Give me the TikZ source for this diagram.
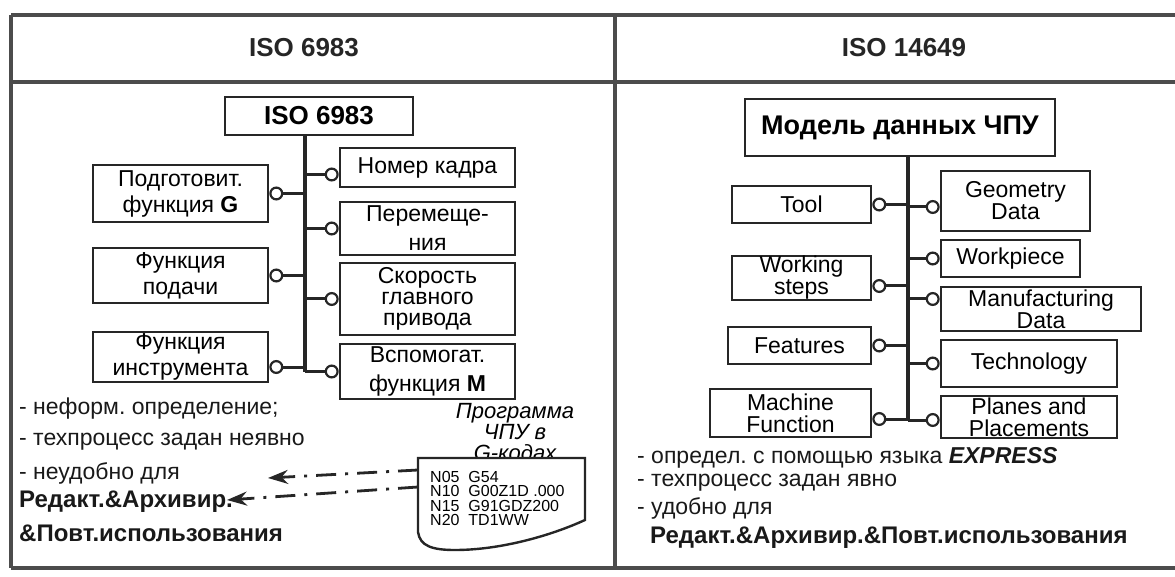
\documentclass[tikz,border=0pt]{standalone}
\usepackage{fontspec}
\setmainfont{Liberation Sans}
\usetikzlibrary{arrows.meta,positioning}
\frenchspacing

\begin{document}
\begin{tikzpicture}[x=1pt, y=-1pt,
  bx/.style={draw=black!85, line width=2.6pt, fill=white, align=center, inner sep=0pt, font=\fontsize{23}{26}\selectfont},
  rb/.style={font=\fontsize{23}{22}\selectfont},
  ttl/.style={bx, font=\bfseries\fontsize{26}{28}\selectfont},
  hd/.style={inner sep=0pt, font=\bfseries\fontsize{26}{28}\selectfont, text=black!85},
  txt/.style={anchor=west, inner sep=0pt, font=\fontsize{23}{24}\selectfont, text=black!90},
  btxt/.style={txt, font=\bfseries\fontsize{24}{24}\selectfont},
  lk/.style={line width=3pt, draw=black!85, -{Circle[open, length=14pt, line width=2.2pt]}},
  tr/.style={line width=3.5pt, draw=black!85},
  frm/.style={line width=3.2pt, draw=black!70},
  pa/.style={line width=2.8pt, draw=black!85, dash pattern=on 20pt off 9pt on 3pt off 9pt, -{Stealth[length=20pt, width=14pt]}},
]
\useasboundingbox (0,0) rectangle (1175,577);
% frame
\draw[frm] (11,15) -- (1175,15);
\draw[frm] (11,82) -- (1175,82);
\draw[frm] (11,568) -- (1175,568);
\draw[frm] (11,15) -- (11,568);
\draw[frm] (615,15) -- (615,568);
\node[hd] (h6983) at (304,48) {ISO 6983};
\node[hd] (h14649) at (904,48) {ISO 14649};

% left panel
\node[ttl, minimum width=188pt, minimum height=38pt] (iso) at (319,116) {ISO 6983};
\node[bx, minimum width=175pt, minimum height=57pt] (prep) at (180.5,193.5) {Подготовит.\\функция \textbf{G}};
\node[bx, minimum width=175pt, minimum height=55pt] (feed) at (180.5,275.5) {Функция\\подачи};
\node[bx, minimum width=175pt, minimum height=50pt] (tfun) at (180.5,357) {Функция\\инструмента};
\node[bx, minimum width=175pt, minimum height=39pt] (blk) at (427.5,167.5) {Номер кадра};
\node[bx, minimum width=175pt, minimum height=53pt, font=\fontsize{23}{29}\selectfont] (move) at (427.5,228.5) {Перемеще-\\ния};
\node[bx, minimum width=175pt, minimum height=72pt, font=\fontsize{23}{21}\selectfont] (spin) at (427.5,299) {Скорость\\главного\\привода};
\node[bx, minimum width=175pt, minimum height=55pt, font=\fontsize{23}{29}\selectfont] (aux) at (427.5,371.5) {Вспомогат.\\функция \textbf{M}};
\coordinate (lt) at (305,370);
\coordinate (tfc) at ([yshift=-10pt]tfun.east);
\coordinate (blc) at ([yshift=-7pt]blk.west);
\draw[tr] (lt |- iso.south) -- (lt |- aux.west);
\draw[lk] (lt |- prep.east) -- (prep.east);
\draw[lk] (lt |- feed.east) -- (feed.east);
\draw[lk] (lt |- tfc) -- (tfc);
\draw[lk] (lt |- blc) -- (blc);
\draw[lk] (lt |- move.west) -- (move.west);
\draw[lk] (lt |- spin.west) -- (spin.west);
\draw[lk] (lt |- aux.west) -- (aux.west);

\node[txt] (l1) at (19,409) {- неформ. определение;};
\node[txt] (l2) at (19,442) {- техпроцесс задан неявно};
\node[txt] (l3) at (19,473) {- неудобно для};
\node[btxt] (l4) at (19,502) {Редакт.\&Архивир.};
\node[btxt] (l5) at (19,533) {\&Повт.использования};

% NC program sheet
\node[align=center, inner sep=0pt, font=\itshape\fontsize{22}{21}\selectfont] (plab) at (515,432) {Программа\\ЧПУ в\\G-кодах};
\coordinate (dnw) at (418,458);
\coordinate (dne) at (585,458);
\coordinate (dse) at (585,520);
\coordinate (dsw) at (418,532);
\draw[line width=2.4pt, draw=black!85, fill=white] (dsw) -- (dnw) -- (dne) -- (dse)
  .. controls (550,536) and (500,550) .. (455,550) .. controls (432,550) and (420,546) .. (dsw);
\node[anchor=north west, align=left, inner sep=0pt, font=\fontsize{16}{14.5}\selectfont] (code) at (430,471)
  {N05\ \ G54\\N10\ \ G00Z1D .000\\N15\ \ G91GDZ200\\N20\ \ TD1WW};
\coordinate (p1) at (418,470);
\coordinate (p2) at (418,487);
\coordinate (e1) at (268,478);
\coordinate (e2) at (227,500);
\draw[pa] (p1) -- (e1);
\draw[pa] (p2) -- (e2);

% right panel
\node[ttl, minimum width=310pt, minimum height=57pt, font=\bfseries\fontsize{27}{28}\selectfont] (model) at (900,127.5) {Модель данных ЧПУ};
\node[bx, rb, minimum width=139pt, minimum height=37pt] (tool) at (801.5,204.5) {Tool};
\node[bx, rb, minimum width=139pt, minimum height=44pt] (wst) at (801.5,278) {Working\\steps};
\node[bx, rb, minimum width=143pt, minimum height=37pt] (feat) at (799.5,345.5) {Features};
\node[bx, rb, minimum width=161pt, minimum height=48pt] (mach) at (790.5,413) {Machine\\Function};
\node[bx, rb, minimum width=149pt, minimum height=60pt] (geom) at (1015.5,201) {Geometry\\Data};
\node[bx, rb, minimum width=139pt, minimum height=37pt] (wpc) at (1010.5,258.5) {Workpiece};
\node[bx, rb, minimum width=200pt, minimum height=44pt] (manu) at (1041,309) {Manufacturing\\Data};
\node[bx, rb, minimum width=176pt, minimum height=47pt] (tech) at (1029,363.5) {Technology};
\node[bx, rb, minimum width=176pt, minimum height=42pt] (plac) at (1029,417) {Planes and\\Placements};
\coordinate (rt) at (908,420);
\coordinate (wsc) at ([yshift=-8pt]wst.east);
\coordinate (mac) at ([yshift=-6pt]mach.east);
\coordinate (gec) at ([yshift=-6pt]geom.west);
\coordinate (mnc) at ([yshift=10pt]manu.west);
\coordinate (plc) at ([yshift=-3pt]plac.west);
\draw[tr] (rt |- model.south) -- (rt);
\draw[lk] (rt |- tool.east) -- (tool.east);
\draw[lk] (rt |- wsc) -- (wsc);
\draw[lk] (rt |- feat.east) -- (feat.east);
\draw[lk] (rt |- mac) -- (mac);
\draw[lk] (rt |- gec) -- (gec);
\draw[lk] (rt |- wpc.west) -- (wpc.west);
\draw[lk] (rt |- mnc) -- (mnc);
\draw[lk] (rt |- tech.west) -- (tech.west);
\draw[lk] (rt |- plc) -- (plc);

\node[txt] (r1) at (637,458) {- определ. с помощью языка \textbf{\textit{EXPRESS}}};
\node[txt] (r2) at (637,483) {- техпроцесс задан явно};
\node[txt] (r3) at (637,508) {- удобно для};
\node[btxt] (r4) at (650,538) {Редакт.\&Архивир.\&Повт.использования};
\end{tikzpicture}
\end{document}
